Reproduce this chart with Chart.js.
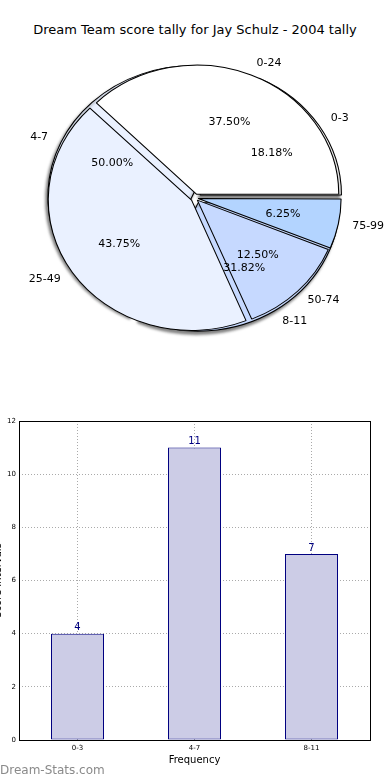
<!DOCTYPE html>
<html>
<head>
<meta charset="utf-8">
<script src="https://cdn.jsdelivr.net/npm/chart.js@4.4.0/dist/chart.umd.min.js"></script>
<style>
body { margin: 0; background: #fff; width: 390px; height: 780px; overflow: hidden; position: relative; font-family: "DejaVu Sans", sans-serif; }
#title { position: absolute; top: 22px; left: 0; width: 390px; text-align: center; font-size: 13px; line-height: 16px; color: #000; }
.pie { position: absolute; left: 0; top: 0; }
#bars { position: absolute; left: -8px; top: 410px; }
#mark { position: absolute; left: 0; top: 763px; font-size: 12px; line-height: 14px; color: #8a8a8a; }
</style>
</head>
<body>
<div id="title">Dream Team score tally for Jay Schulz - 2004 tally</div>
<canvas id="pieBack" class="pie" width="390" height="400"></canvas>
<canvas id="pieFront" class="pie" width="390" height="400"></canvas>
<canvas id="bars" width="398" height="370"></canvas>
<div id="mark">Dream-Stats.com</div>
<script>
// 数据
const scoreRanges = ['0-24', '25-49', '50-74', '75-99'];
const rangeCounts = [6, 7, 2, 1];
const tallyBins = ['0-3', '4-7', '8-11'];
const tallyCounts = [4, 11, 7];
const yTicks = [0, 2, 4, 6, 8, 10, 12];

// 饼图几何: 横向拉伸成椭圆
const CX = 195;
const SX = 1.1;
const FONT = '"DejaVu Sans", sans-serif';

const rangeColors = ['#ffffff', '#eaf1ff', '#c6d9ff', '#b3d4ff'];
const rangeOffsets = [16, 15, 12, 12];
const tallyColors = ['#ffffff', '#eaf1ff', '#c6d9ff'];
const tallyOffsets = [22, 12, 22];

// matplotlib 逆时针, Chart.js 顺时针 -> 反转顺序
function rev(a) { return a.slice().reverse(); }

const squash = {
    id: 'squash',
    beforeDatasetsDraw(chart, args, opts) {
        const ctx = chart.ctx;
        ctx.save();
        ctx.translate(CX, 0);
        ctx.scale(SX, 1);
        ctx.translate(-CX, 0);
        if (opts.shadow) {
            ctx.shadowColor = 'rgba(0,0,0,0.5)';
            ctx.shadowOffsetX = -2;
            ctx.shadowOffsetY = 3;
            ctx.shadowBlur = 3;
        }
    },
    afterDatasetsDraw(chart) {
        chart.ctx.restore();
    }
};

function pieConfig(labels, counts, colors, offsets, shadow, extraPlugins) {
    return {
        type: 'pie',
        data: {
            labels: rev(labels),
            datasets: [{
                data: rev(counts),
                backgroundColor: rev(colors),
                offset: rev(offsets),
                borderColor: '#000',
                borderWidth: 1,
                clip: false
            }]
        },
        options: {
            responsive: false,
            animation: false,
            events: [],
            rotation: 90,
            radius: 128,
            layout: { padding: { bottom: 4 } },
            plugins: {
                legend: { display: false },
                tooltip: { enabled: false },
                squash: { shadow: shadow }
            }
        },
        plugins: [squash].concat(extraPlugins || [])
    };
}

// 画标签和百分比
function drawArcTexts(ctx, chart) {
    const meta = chart.getDatasetMeta(0);
    const values = chart.data.datasets[0].data;
    const total = values.reduce((a, b) => a + b, 0);
    ctx.save();
    ctx.font = '11px ' + FONT;
    ctx.fillStyle = '#000';
    ctx.textBaseline = 'middle';
    meta.data.forEach((arc, i) => {
        const p = arc.getProps(['x', 'y', 'startAngle', 'endAngle', 'outerRadius', 'circumference']);
        const h = (p.startAngle + p.endAngle) / 2;
        const fix = 1 - Math.sin(Math.min(Math.PI, p.circumference));
        const shift = (arc.options.offset || 0) / 4 * (1 + fix);
        const at = k => {
            const d = shift + k * p.outerRadius;
            return [CX + (p.x + Math.cos(h) * d - CX) * SX, p.y + Math.sin(h) * d];
        };
        const lp = at(1.1);
        ctx.textAlign = Math.cos(h) >= 0 ? 'left' : 'right';
        ctx.fillText(chart.data.labels[i], lp[0], lp[1]);
        const pp = at(0.6);
        ctx.textAlign = 'center';
        ctx.fillText((values[i] / total * 100).toFixed(2) + '%', pp[0], pp[1]);
    });
    ctx.restore();
}

const backPie = new Chart(document.getElementById('pieBack'),
    pieConfig(tallyBins, tallyCounts, tallyColors, tallyOffsets, true));

const pieTexts = {
    id: 'pieTexts',
    afterDraw(chart) {
        drawArcTexts(chart.ctx, chart);
        drawArcTexts(chart.ctx, backPie);
    }
};

new Chart(document.getElementById('pieFront'),
    pieConfig(scoreRanges, rangeCounts, rangeColors, rangeOffsets, false, [pieTexts]));

// 柱状图
const frame = {
    id: 'frame',
    afterDraw(chart) {
        const a = chart.chartArea;
        const ctx = chart.ctx;
        ctx.save();
        ctx.strokeStyle = '#000';
        ctx.lineWidth = 1;
        ctx.strokeRect(Math.round(a.left) + 0.5, Math.round(a.top) + 0.5,
            Math.round(a.right - a.left), Math.round(a.bottom - a.top));
        ctx.restore();
    }
};

const barValues = {
    id: 'barValues',
    afterDraw(chart) {
        const ctx = chart.ctx;
        const meta = chart.getDatasetMeta(0);
        ctx.save();
        ctx.font = '10px ' + FONT;
        ctx.fillStyle = '#000080';
        ctx.textAlign = 'center';
        ctx.textBaseline = 'bottom';
        meta.data.forEach((bar, i) => {
            ctx.fillText(String(tallyCounts[i]), bar.x, bar.y - 1);
        });
        ctx.restore();
    }
};

new Chart(document.getElementById('bars'), {
    type: 'bar',
    data: {
        labels: tallyBins,
        datasets: [{
            data: tallyCounts,
            backgroundColor: '#cccce6',
            borderColor: '#000080',
            borderWidth: 1,
            borderSkipped: false,
            barPercentage: 0.453,
            categoryPercentage: 1
        }]
    },
    options: {
        responsive: false,
        animation: false,
        events: [],
        layout: { padding: { top: 11, right: 20, bottom: 10, left: 0 } },
        plugins: {
            legend: { display: false },
            tooltip: { enabled: false }
        },
        scales: {
            x: {
                z: 1,
                grid: { offset: false, color: '#aaaaaa', drawTicks: false },
                border: { display: false, dash: [1, 2] },
                ticks: { font: { family: FONT, size: 7 }, color: '#000', padding: 4, maxRotation: 0 },
                title: { display: true, text: 'Frequency', font: { family: FONT, size: 10 }, color: '#000', padding: { top: 0, bottom: 4 } },
                afterFit(s) { s.height = 30; }
            },
            y: {
                z: 1,
                min: yTicks[0],
                max: yTicks[yTicks.length - 1],
                afterBuildTicks(s) { s.ticks = yTicks.map(v => ({ value: v })); },
                grid: { color: '#aaaaaa', drawTicks: false },
                border: { display: false, dash: [1, 2] },
                ticks: { font: { family: FONT, size: 7 }, color: '#000', padding: 3 },
                title: { display: true, text: 'Score Intervals', font: { family: FONT, size: 10 }, color: '#000', padding: { top: 0, bottom: 0 } },
                afterFit(s) { s.width = 27; }
            }
        }
    },
    plugins: [frame, barValues]
});
</script>
</body>
</html>
